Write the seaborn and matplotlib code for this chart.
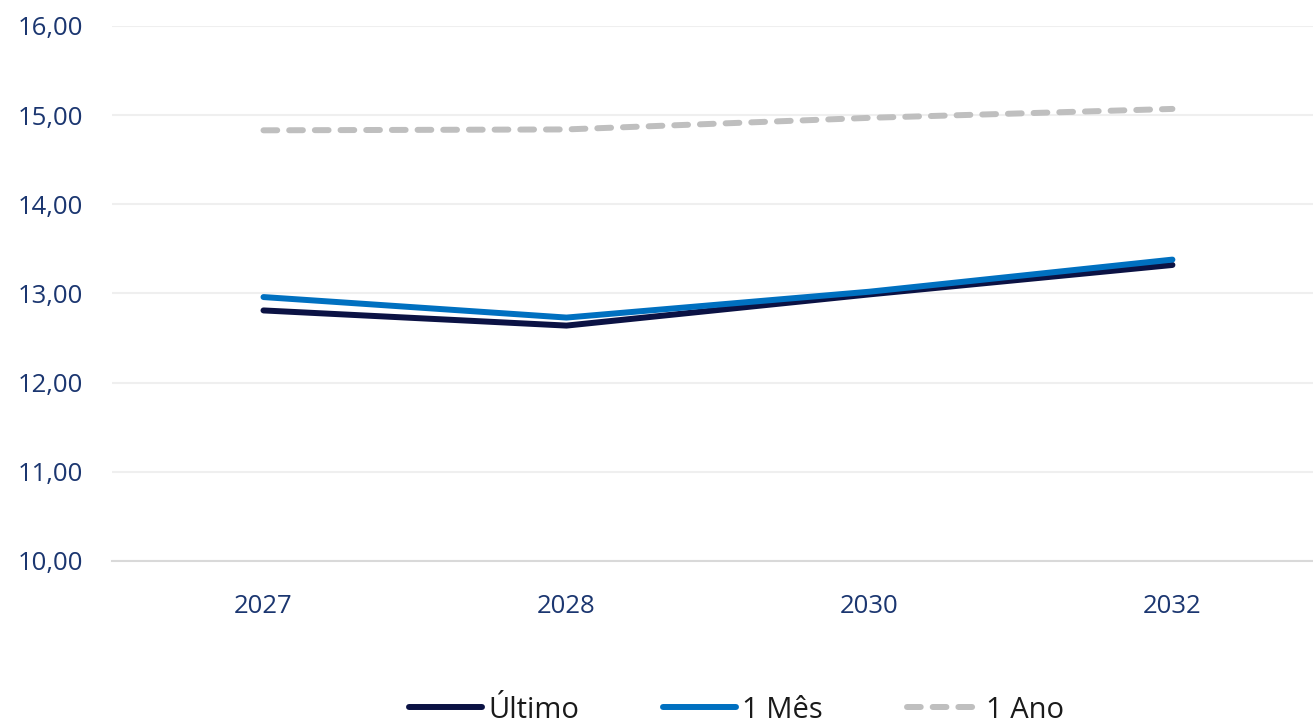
import matplotlib
matplotlib.use("Agg")
import matplotlib.pyplot as plt
from matplotlib.lines import Line2D
from matplotlib.ticker import FuncFormatter, MultipleLocator
import seaborn as sns
import pandas as pd

# Projected rates by year
anos = ["2027", "2028", "2030", "2032"]
ultimo = [12.81, 12.64, 12.99, 13.32]
um_mes = [12.96, 12.73, 13.02, 13.38]
um_ano = [14.83, 14.84, 14.97, 15.07]

series = ["Último", "1 Mês", "1 Ano"]
cores = {"Último": "#0b1244", "1 Mês": "#0070c0", "1 Ano": "#bfbfbf"}
tracos = {"Último": "", "1 Mês": "", "1 Ano": (2.3, 2.0)}

df = pd.concat([
    pd.DataFrame({"ano": anos, "valor": ultimo, "serie": "Último"}),
    pd.DataFrame({"ano": anos, "valor": um_mes, "serie": "1 Mês"}),
    pd.DataFrame({"ano": anos, "valor": um_ano, "serie": "1 Ano"}),
])
df["pos"] = df["ano"].map({a: i for i, a in enumerate(anos)})

sns.set_theme(style="white")
plt.rcParams["font.family"] = ["Open Sans", "DejaVu Sans"]

LW = 4.3
fig = plt.figure(figsize=(13.13, 7.22), dpi=100)
ax = fig.add_axes([0.0853, 0.223, 0.9147, 0.741])

sns.lineplot(
    data=df, x="pos", y="valor", hue="serie", style="serie",
    hue_order=series, style_order=series, palette=cores, dashes=tracos,
    linewidth=LW, ax=ax, legend=False, sort=False,
)
for ln in ax.lines:
    ln.set_solid_capstyle("round")
    ln.set_dash_capstyle("round")
    ln.set_solid_joinstyle("round")

ax.set_ylim(10, 16)
ax.set_xlim(-0.5, 3.464)
ax.yaxis.set_major_locator(MultipleLocator(1))
ax.yaxis.set_major_formatter(FuncFormatter(lambda v, p: f"{v:.2f}".replace(".", ",")))
ax.set_xticks(range(len(anos)))
ax.set_xticklabels(anos)
ax.set_xlabel("")
ax.set_ylabel("")

ax.grid(axis="y", color="#efefef", linewidth=1.5)
ax.set_axisbelow(True)
for s in ["top", "right", "left"]:
    ax.spines[s].set_visible(False)
ax.spines["bottom"].set_color("#d9d9d9")
ax.spines["bottom"].set_linewidth(1.5)

tick_color = "#1b3670"
ax.tick_params(axis="y", length=0, pad=21, labelsize=18.5, labelcolor=tick_color)
ax.tick_params(axis="x", length=0, pad=24, labelsize=18.5, labelcolor=tick_color)

# Legend below the axes
handles = [
    Line2D([], [], color=cores[s], lw=LW, solid_capstyle="round",
           dash_capstyle="round", **({"dashes": tracos[s]} if tracos[s] else {}))
    for s in series
]
fig.legend(handles, series, loc="lower center", bbox_to_anchor=(0.561, -0.04),
           ncol=3, frameon=False, fontsize=21, handlelength=2.5,
           handletextpad=0.2, columnspacing=2.9, labelcolor="#1a1a1a")

fig.savefig("out.png", dpi=100, facecolor="white")
